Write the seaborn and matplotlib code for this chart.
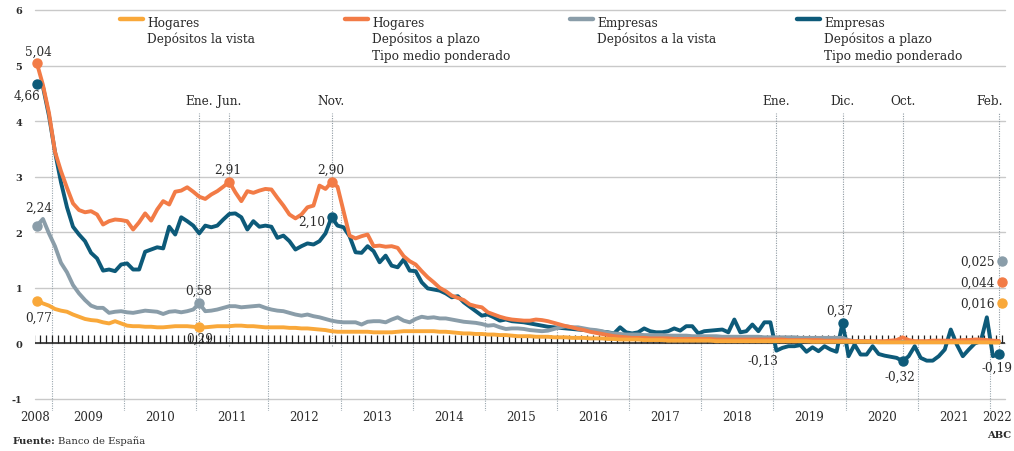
"""Tipos de interés de los depósitos bancarios, 2008-2022"""

import numpy as np
import pandas as pd
import matplotlib.pyplot as plt
import seaborn as sns
from matplotlib.lines import Line2D

# monthly values, Oct 2008 - Feb 2022 (%)
hogares_vista = [
    0.77, 0.72, 0.68,
    0.62, 0.59, 0.57, 0.52, 0.48, 0.44, 0.42, 0.41, 0.38, 0.36, 0.40, 0.36,
    0.32, 0.31, 0.31, 0.30, 0.30, 0.29, 0.29, 0.30, 0.31, 0.31, 0.31, 0.30,
    0.29, 0.29, 0.30, 0.31, 0.31, 0.31, 0.32, 0.32, 0.31, 0.31, 0.30, 0.29,
    0.29, 0.29, 0.29, 0.28, 0.28, 0.27, 0.27, 0.26, 0.25, 0.24, 0.22, 0.21,
    0.21, 0.21, 0.21, 0.21, 0.21, 0.20, 0.20, 0.20, 0.20, 0.21, 0.22, 0.22,
    0.22, 0.22, 0.22, 0.22, 0.21, 0.21, 0.20, 0.19, 0.18, 0.18, 0.17, 0.17,
    0.16, 0.16, 0.15, 0.15, 0.14, 0.13, 0.13, 0.13, 0.12, 0.12, 0.12, 0.11,
    0.11, 0.11, 0.10, 0.10, 0.10, 0.09, 0.09, 0.09, 0.08, 0.08, 0.07, 0.07,
    0.07, 0.07, 0.06, 0.06, 0.06, 0.06, 0.05, 0.05, 0.05, 0.05, 0.05, 0.05,
    0.05, 0.05, 0.04, 0.04, 0.04, 0.04, 0.04, 0.04, 0.04, 0.04, 0.04, 0.04,
    0.04, 0.04, 0.04, 0.04, 0.04, 0.04, 0.03, 0.03, 0.03, 0.03, 0.03, 0.03,
    0.03, 0.03, 0.03, 0.03, 0.03, 0.02, 0.02, 0.02, 0.02, 0.02, 0.02, 0.02,
    0.02, 0.02, 0.02, 0.02, 0.02, 0.02, 0.02, 0.02, 0.02, 0.02, 0.02, 0.02,
    0.016, 0.016,
]
hogares_plazo = [
    5.04, 4.65, 4.15,
    3.45, 3.10, 2.80, 2.52, 2.40, 2.36, 2.38, 2.32, 2.14, 2.20, 2.23, 2.22,
    2.20, 2.05, 2.18, 2.34, 2.21, 2.41, 2.56, 2.50, 2.73, 2.75, 2.81, 2.73,
    2.64, 2.60, 2.68, 2.74, 2.82, 2.91, 2.72, 2.56, 2.74, 2.71, 2.75, 2.78,
    2.77, 2.62, 2.48, 2.32, 2.25, 2.32, 2.45, 2.48, 2.84, 2.78, 2.90, 2.82,
    2.38, 1.94, 1.89, 1.93, 1.96, 1.75, 1.76, 1.74, 1.75, 1.72, 1.57, 1.48,
    1.42, 1.30, 1.19, 1.10, 1.00, 0.94, 0.86, 0.82, 0.78, 0.70, 0.67, 0.65,
    0.56, 0.52, 0.48, 0.45, 0.43, 0.42, 0.41, 0.41, 0.43, 0.42, 0.40, 0.37,
    0.34, 0.31, 0.29, 0.26, 0.24, 0.21, 0.19, 0.17, 0.15, 0.13, 0.12, 0.11,
    0.10, 0.10, 0.10, 0.09, 0.09, 0.09, 0.09, 0.08, 0.08, 0.08, 0.08, 0.08,
    0.08, 0.08, 0.07, 0.07, 0.07, 0.07, 0.07, 0.07, 0.07, 0.07, 0.07, 0.07,
    0.07, 0.07, 0.06, 0.06, 0.06, 0.06, 0.06, 0.06, 0.05, 0.05, 0.05, 0.05,
    0.05, 0.04, 0.04, 0.04, 0.04, 0.04, 0.04, 0.05, 0.06, 0.11, 0.06, 0.04,
    0.04, 0.04, 0.05, 0.05, 0.05, 0.05, 0.05, 0.06, 0.06, 0.07, 0.07, 0.06,
    0.05, 0.044,
]
empresas_vista = [
    2.12, 2.24, 1.98,
    1.75, 1.45, 1.28, 1.05, 0.90, 0.78, 0.68, 0.64, 0.64, 0.55, 0.57, 0.58,
    0.56, 0.55, 0.57, 0.59, 0.58, 0.57, 0.53, 0.57, 0.58, 0.56, 0.58, 0.61,
    0.72, 0.58, 0.59, 0.61, 0.64, 0.67, 0.67, 0.65, 0.66, 0.67, 0.68, 0.64,
    0.61, 0.59, 0.58, 0.55, 0.52, 0.50, 0.52, 0.49, 0.47, 0.44, 0.41, 0.39,
    0.38, 0.38, 0.38, 0.34, 0.39, 0.40, 0.40, 0.38, 0.43, 0.47, 0.41, 0.38,
    0.44, 0.48, 0.46, 0.47, 0.45, 0.45, 0.43, 0.41, 0.39, 0.38, 0.37, 0.35,
    0.32, 0.33, 0.29, 0.26, 0.27, 0.27, 0.26, 0.24, 0.23, 0.22, 0.23, 0.26,
    0.29, 0.31, 0.29, 0.29, 0.27, 0.25, 0.24, 0.22, 0.19, 0.18, 0.17, 0.16,
    0.16, 0.16, 0.15, 0.15, 0.15, 0.15, 0.14, 0.14, 0.14, 0.14, 0.13, 0.13,
    0.13, 0.13, 0.13, 0.12, 0.12, 0.12, 0.12, 0.12, 0.12, 0.12, 0.11, 0.11,
    0.11, 0.11, 0.11, 0.11, 0.10, 0.10, 0.10, 0.10, 0.10, 0.10, 0.10, 0.10,
    0.06, 0.04, 0.04, 0.04, 0.03, 0.03, 0.03, 0.03, 0.03, 0.03, 0.03, 0.03,
    0.03, 0.03, 0.03, 0.03, 0.03, 0.03, 0.03, 0.03, 0.03, 0.03, 0.03, 0.03,
    0.025, 0.025,
]
empresas_plazo = [
    4.66, 4.62, 4.10,
    3.45, 2.90, 2.45, 2.10, 1.96, 1.84, 1.63, 1.53, 1.31, 1.33, 1.30, 1.42,
    1.44, 1.33, 1.33, 1.65, 1.69, 1.73, 1.71, 2.10, 1.96, 2.27, 2.20, 2.12,
    1.98, 2.12, 2.09, 2.12, 2.23, 2.33, 2.34, 2.27, 2.05, 2.20, 2.10, 2.12,
    2.10, 1.90, 1.94, 1.84, 1.69, 1.75, 1.80, 1.78, 1.84, 1.98, 2.27, 2.12,
    2.09, 1.93, 1.64, 1.63, 1.75, 1.66, 1.46, 1.58, 1.40, 1.37, 1.51, 1.31,
    1.30, 1.10, 0.99, 0.97, 0.95, 0.90, 0.83, 0.85, 0.74, 0.66, 0.58, 0.50,
    0.52, 0.47, 0.41, 0.43, 0.40, 0.39, 0.38, 0.36, 0.34, 0.32, 0.30, 0.29,
    0.28, 0.27, 0.26, 0.25, 0.24, 0.23, 0.22, 0.21, 0.20, 0.18, 0.29, 0.20,
    0.18, 0.20, 0.27, 0.22, 0.20, 0.20, 0.22, 0.27, 0.23, 0.31, 0.31, 0.18,
    0.22, 0.23, 0.24, 0.25, 0.20, 0.43, 0.20, 0.22, 0.34, 0.22, 0.38, 0.38,
    -0.13, -0.08, -0.05, -0.05, -0.03, -0.15, -0.07, -0.14, -0.05, -0.11, -0.15, 0.37,
    -0.23, -0.02, -0.20, -0.20, -0.05, -0.19, -0.22, -0.24, -0.26, -0.32, -0.23, -0.05,
    -0.26, -0.31, -0.31, -0.23, -0.11, 0.25, -0.02, -0.23, -0.11, 0.00, 0.04, 0.47,
    -0.23, -0.19,
]

years = list(range(2008, 2023))
event_months = ["2011-01", "2011-06", "2012-11", "2019-01", "2019-12", "2020-10", "2022-02"]
event_labels = ["Ene.", "Jun.", "Nov.", "Ene.", "Dic.", "Oct.", "Feb."]

YELLOW = "#F9A83A"
ORANGE = "#F27B46"
GRAY = "#8A9DA9"
DARK = "#0D5A79"
TXT = "#2b2b2b"

months = pd.date_range("2008-10-01", "2022-02-01", freq="MS")
t = np.asarray(months.year + (months.month - 0.5) / 12)
df = pd.DataFrame({
    "t": t,
    "hogares_vista": hogares_vista,
    "hogares_plazo": hogares_plazo,
    "empresas_vista": empresas_vista,
    "empresas_plazo": empresas_plazo,
})

def tpos(month: str) -> float:
    p = pd.Period(month, freq="M")
    return p.year + (p.month - 0.5) / 12

sns.set_style("white")
plt.rcParams["font.family"] = ["DejaVu Serif"]

W, H = 1014, 452
fig = plt.figure(figsize=(W / 100, H / 100), dpi=100)
ax = fig.add_axes([35 / W, 1 - 412 / H, 970 / W, 401 / H])
ax.set_xlim(2008.765, 2022.21)
ax.set_ylim(-1.216, 6.0)
for s in ax.spines.values():
    s.set_visible(False)

# grid
for v in range(-1, 7):
    ax.axhline(v, color="#c9c9c9", lw=1.0, zorder=0, clip_on=False)
ax.set_yticks(range(-1, 7))
ax.set_yticklabels([str(v) for v in range(-1, 7)], fontsize=7, fontweight="bold", color=TXT)
ax.tick_params(axis="y", length=0, pad=9)
ax.set_xticks([])

# year boundaries (dotted, from the highest curve down)
allmax = df[["hogares_vista", "hogares_plazo", "empresas_vista", "empresas_plazo"]].max(axis=1).values
for yr in years[1:]:
    top = np.interp(yr, t, allmax)
    ax.vlines(yr, -1.216, top, color="#9aa6ae", lw=0.8, linestyles=(0, (1, 1.2)), zorder=1)

# event lines
for m, lab in zip(event_months, event_labels):
    x = tpos(m)
    low = min(-0.05, np.interp(x, t, df["empresas_plazo"]))
    ax.vlines(x, low, 4.15, color="#8f9aa2", lw=0.8, linestyles=(0, (1, 1.2)), zorder=1)
    if lab == "Feb.":
        ax.text(x + 0.05, 4.37, lab, ha="right", va="center", fontsize=8.7, color=TXT)
    else:
        ax.text(x, 4.37, lab, ha="center", va="center", fontsize=8.7, color=TXT)

# zero line with monthly ticks
ax.axhline(0, color="#3a3a3a", lw=1.3, zorder=2)
mticks = np.arange(2008.75, 2022.21, 1 / 12)
ax.vlines(mticks, 0, 0.16, color="#222222", lw=0.9, zorder=2)

# series
sns.lineplot(data=df, x="t", y="empresas_plazo", color=DARK, lw=2.8, ax=ax, zorder=3)
sns.lineplot(data=df, x="t", y="empresas_vista", color=GRAY, lw=2.8, ax=ax, zorder=3)
sns.lineplot(data=df, x="t", y="hogares_plazo", color=ORANGE, lw=2.8, ax=ax, zorder=4)
sns.lineplot(data=df, x="t", y="hogares_vista", color=YELLOW, lw=2.8, ax=ax, zorder=4)
ax.set_xlabel("")
ax.set_ylabel("")

# marked points and their labels
def mark(col, month, color, label, dx, dy, ha="center"):
    x = tpos(month)
    y = df.loc[np.isclose(df["t"], x), col].values[0]
    ax.plot(x, y, "o", ms=6.5, color=color, zorder=5, clip_on=False)
    if label:
        ax.annotate(label, (x, y), xytext=(dx, -dy), textcoords="offset pixels",
                    ha=ha, va="center", fontsize=8.7, color=TXT, zorder=6)

mark("hogares_plazo", "2008-10", ORANGE, "5,04", 1, -12)
mark("empresas_plazo", "2008-10", DARK, "4,66", -10, 11)
mark("empresas_vista", "2008-10", GRAY, "", 0, 0)
mark("hogares_vista", "2008-10", YELLOW, "0,77", 2, 17)
mark("empresas_vista", "2011-01", GRAY, "0,58", -1, -13)
mark("hogares_vista", "2011-01", YELLOW, "0,29", 0, 11)
mark("hogares_plazo", "2011-06", ORANGE, "2,91", -2, -12)
mark("hogares_plazo", "2012-11", ORANGE, "2,90", -1, -13)
mark("empresas_plazo", "2012-11", DARK, "2,10", -6, 4, ha="right")
mark("empresas_plazo", "2019-12", DARK, "0,37", -3, -13)
mark("empresas_plazo", "2020-10", DARK, "-0,32", -3, 15)
mark("empresas_plazo", "2022-02", DARK, "-0,19", -2, 13)

x_gray = tpos("2008-11")
ax.annotate("2,24", (x_gray, empresas_vista[1]), xytext=(-4, 12), textcoords="offset pixels",
            ha="center", va="center", fontsize=8.7, color=TXT)
x_jan = tpos("2019-01")
ax.annotate("-0,13", (x_jan, empresas_plazo[123]), xytext=(-13, -10), textcoords="offset pixels",
            ha="center", va="center", fontsize=8.7, color=TXT)

# last values, stacked at the right edge
last_vals = [("0,025", GRAY, 262), ("0,044", ORANGE, 283), ("0,016", YELLOW, 304)]
for lab, col, ypx in last_vals:
    fig.add_artist(Line2D([1002 / W], [1 - ypx / H], marker="o", ms=6.5, color=col, lw=0))
    fig.text(995 / W, 1 - ypx / H, lab, ha="right", va="center", fontsize=8.7, color=TXT)

# year labels
for yr in years:
    if yr == 2008:
        x = 2008.765
    elif yr == 2022:
        x = 2022.1
    else:
        x = yr + 0.5
    ax.text(x, -1.318, str(yr), ha="center", va="center", fontsize=8.5, color=TXT, clip_on=False)

# legend
legend = [
    (YELLOW, 120, ["Hogares", "Depósitos la vista"]),
    (ORANGE, 345, ["Hogares", "Depósitos a plazo", "Tipo medio ponderado"]),
    (GRAY, 570, ["Empresas", "Depósitos a la vista"]),
    (DARK, 797, ["Empresas", "Depósitos a plazo", "Tipo medio ponderado"]),
]
for col, x0, lines in legend:
    fig.add_artist(Line2D([x0 / W, (x0 + 23) / W], [1 - 20 / H] * 2, color=col, lw=3.2,
                          solid_capstyle="round"))
    for i, line in enumerate(lines):
        fig.text((x0 + 27) / W, 1 - (26.8 + 16.4 * i) / H, line, ha="left", va="baseline",
                 fontsize=8.7, color=TXT)

# footer
fig.text(13 / W, 1 - 444 / H, "Fuente:", ha="left", va="baseline", fontsize=7.2,
         fontweight="bold", color=TXT)
fig.text(58 / W, 1 - 444 / H, "Banco de España", ha="left", va="baseline", fontsize=7.2, color=TXT)
fig.text(1011 / W, 1 - 438 / H, "ABC", ha="right", va="baseline", fontsize=7.2,
         fontweight="bold", color=TXT)

fig.savefig("out.png", dpi=100)
plt.close(fig)
